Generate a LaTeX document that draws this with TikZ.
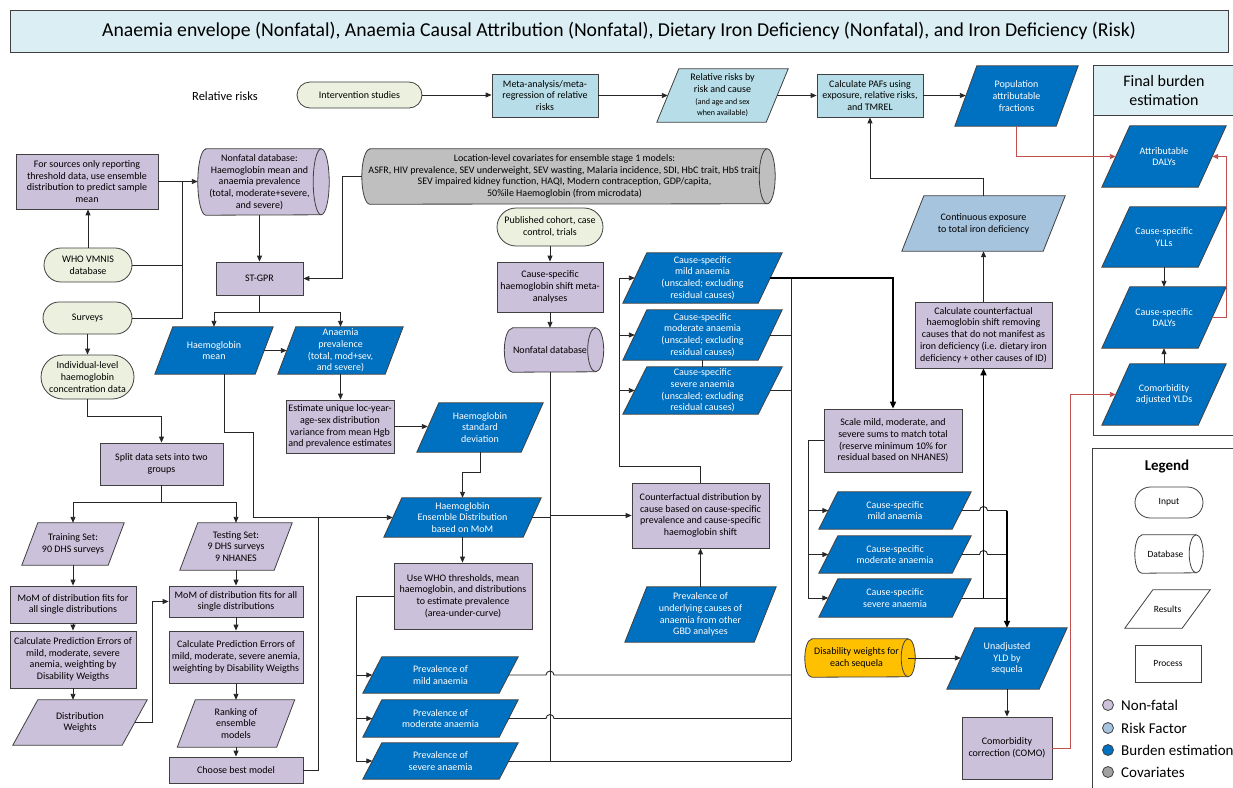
\documentclass[tikz,border=0pt]{standalone}
\usepackage{fontspec}
\setmainfont{Carlito}
\usetikzlibrary{arrows.meta,calc}
\pgfdeclarelayer{bg}
\pgfsetlayers{bg,main}
\definecolor{cpur}{HTML}{CCC1DA}
\definecolor{ccyan}{HTML}{B7DEE8}
\definecolor{csteel}{HTML}{A7C4DE}
\definecolor{cdkb}{HTML}{0070C0}
\definecolor{cgry}{HTML}{BFBFBF}
\definecolor{cgrn}{HTML}{EBF1DE}
\definecolor{corg}{HTML}{FFC000}
\definecolor{cttl}{HTML}{DBEEF4}
\definecolor{cred}{HTML}{C0504D}
\definecolor{cbord}{HTML}{404040}
\definecolor{clin}{HTML}{262626}
\tikzset{
  txt/.style={align=center, inner sep=0pt, font=\fontsize{10}{11.7}\selectfont, text=black},
  shp/.style={draw=cbord, line width=0.8pt},
  pp/.style={shp, fill=cpur}, pptxt/.style={},
  dk/.style={shp, fill=cdkb}, dktxt/.style={text=white},
  cy/.style={shp, fill=ccyan}, cytxt/.style={},
  st/.style={shp, fill=csteel}, sttxt/.style={},
  gr/.style={shp, fill=cgry}, grtxt/.style={font=\fontsize{10}{11.5}\selectfont},
  og/.style={shp, fill=corg}, ogtxt/.style={},
  wh/.style={shp, fill=white}, whtxt/.style={font=\fontsize{9.5}{11}\selectfont},
  prc/.style={txt, pp},
  inp/.style={txt, shp, fill=cgrn},
  ln/.style={draw=clin, line width=0.9pt},
  arr/.style={ln, -{Triangle[length=6pt,width=5pt]}},
  tarr/.style={draw=black, line width=1.8pt, -{Triangle[length=7pt,width=6pt]}},
  rln/.style={draw=cred, line width=0.9pt},
  rarr/.style={rln, -{Triangle[length=6pt,width=5pt]}},
}
% parallelogram: name cx cy W H slant style text
\newcommand\pbox[8]{%
  \node[txt,#7txt, minimum width={#4-#6}, minimum height=#5] (#1) at (#2,#3) {#8};
  \begin{pgfonlayer}{bg}
  \path[#7] ($(#1.south west)+(-#6/2,0)$) -- ($(#1.south east)+(-#6/2,0)$) -- ($(#1.north east)+(#6/2,0)$) -- ($(#1.north west)+(#6/2,0)$) -- cycle;
  \end{pgfonlayer}}
% horizontal cylinder: name cx cy W H r style text  (node spans left edge to centre of right ellipse)
\newcommand\cyl[8]{%
  \node[txt,#7txt, minimum width={#4-#6}, minimum height=#5] (#1) at ({#2-#6/2},#3) {#8};
  \begin{pgfonlayer}{bg}
  \path[#7] ($(#1.north west)+(#6,0)$) -- (#1.north east) arc[start angle=90,end angle=-90,x radius=#6pt,y radius={(#5)*0.5pt}] -- ($(#1.south west)+(#6,0)$) arc[start angle=270,end angle=90,x radius=#6pt,y radius={(#5)*0.5pt}] -- cycle;
  \draw[#7, fill=none] (#1.north east) arc[start angle=90,end angle=270,x radius=#6pt,y radius={(#5)*0.5pt}];
  \end{pgfonlayer}}
\begin{document}
\begin{tikzpicture}[x=1pt,y=-1pt]
\useasboundingbox (0,0) rectangle (1233,787);
\begin{pgfonlayer}{bg}\fill[white] (0,0) rectangle (1233,787);\end{pgfonlayer}

% title
\node[shp, fill=cttl, minimum width=1218, minimum height=42, inner sep=0pt, font=\fontsize{19.7}{22}\selectfont] (title) at (619,31) {Anaemia envelope (Nonfatal), Anaemia Causal Attribution (Nonfatal), Dietary Iron Deficiency (Nonfatal), and Iron Deficiency (Risk)};
\node[font=\fontsize{12.5}{14}\selectfont, inner sep=0pt] (rrlab) at (225,96) {Relative risks};

% panels
\node[draw=cbord, line width=0.8pt, minimum width=141, minimum height=370, anchor=north west, inner sep=0pt] (fbpanel) at (1093,65) {};
\node[draw=cbord, line width=0.8pt, fill=cttl, minimum width=141, minimum height=50, anchor=north west, inner sep=0pt, align=center, font=\fontsize{16}{18.5}\selectfont] (fbhead) at (1093,65) {Final burden\\estimation};
\node[draw=cbord, line width=0.8pt, minimum width=145, minimum height=345, anchor=north west, inner sep=0pt] (legpanel) at (1092,448) {};

% inputs
\node[inp, minimum width=125, minimum height=26, rounded corners=13pt] (interv) at (359.5,95) {Intervention studies};
\node[inp, minimum width=106, minimum height=38, rounded corners=19pt] (publ) at (550,227) {Published cohort, case\\control, trials};
\node[inp, minimum width=88, minimum height=34, rounded corners=17pt] (who) at (88,265) {WHO VMNIS\\database};
\node[inp, minimum width=89, minimum height=32, rounded corners=16pt] (surv) at (87.5,318) {Surveys};
\node[inp, minimum width=93, minimum height=44, rounded corners=22pt] (indiv) at (87.5,377) {Individual-level\\haemoglobin\\concentration data};

% processes
\node[prc, minimum width=142, minimum height=55] (forsrc) at (87,181.5) {For sources only reporting\\threshold data, use ensemble\\distribution to predict sample\\mean};
\node[prc, minimum width=87, minimum height=33] (stgpr) at (259.5,278.5) {ST-GPR};
\node[prc, minimum width=108, minimum height=53] (estim) at (340,426.5) {Estimate unique loc-year-\\age-sex distribution\\variance from mean Hgb\\and prevalence estimates};
\node[prc, minimum width=123, minimum height=42] (split) at (161.5,464) {Split data sets into two\\groups};
\node[prc, minimum width=126, minimum height=37] (momL) at (73,604.5) {MoM of distribution fits for\\all single distributions};
\node[prc, minimum width=126, minimum height=57] (calcL) at (73,659.5) {Calculate Prediction Errors of\\mild, moderate, severe\\anemia, weighting by\\Disability Weigths};
\node[prc, minimum width=134, minimum height=31] (momR) at (236,601.5) {MoM of distribution fits for all\\single distributions};
\node[prc, minimum width=134, minimum height=52] (calcR) at (236,657) {Calculate Prediction Errors of\\mild, moderate, severe anemia,\\weighting by Disability Weigths};
\node[prc, minimum width=134, minimum height=26] (choose) at (236,770) {Choose best model};
\node[prc, minimum width=106, minimum height=50] (csmeta) at (550,287) {Cause-specific\\haemoglobin shift meta-\\analyses};
\node[prc, minimum width=138, minimum height=66] (usewho) at (463,596) {Use WHO thresholds, mean\\haemoglobin, and distributions\\to estimate prevalence\\(area-under-curve)};
\node[prc, minimum width=137, minimum height=65] (counterf) at (700.5,515.5) {Counterfactual distribution by\\cause based on cause-specific\\prevalence and cause-specific\\haemoglobin shift};
\node[prc, minimum width=138, minimum height=63] (scale) at (893,440.5) {Scale mild, moderate, and\\severe sums to match total\\(reserve minimum 10\% for\\residual based on NHANES)};
\node[prc, minimum width=137, minimum height=66] (calccf) at (983.5,335) {Calculate counterfactual\\haemoglobin shift removing\\causes that do not manifest as\\iron deficiency (i.e. dietary iron\\deficiency + other causes of ID)};
\node[prc, minimum width=90, minimum height=62] (como) at (1007,748) {Comorbidity\\correction (COMO)};
\node[txt, cy, minimum width=106, minimum height=43] (metaan) at (545,95.5) {Meta-analysis/meta-\\regression of relative\\risks};
\node[txt, cy, minimum width=106, minimum height=43] (calcpaf) at (870,95.5) {Calculate PAFs using\\exposure, relative risks,\\and TMREL};

% parallelograms
\pbox{relrr}{722.5}{95.5}{131}{53}{22}{cy}{Relative risks by\\risk and cause\\{\fontsize{8}{9.5}\selectfont (and age and sex}\\{\fontsize{8}{9.5}\selectfont when available)}}
\pbox{paf}{1016.5}{96}{123}{60}{22}{dk}{Population\\attributable\\fractions}
\pbox{contexp}{983.5}{223.5}{163}{55}{22}{st}{Continuous exposure\\to total iron deficiency}
\pbox{attrd}{1164}{156.5}{124}{61}{28}{dk}{Attributable\\DALYs}
\pbox{ylls}{1164}{237}{124}{60}{28}{dk}{Cause-specific\\YLLs}
\pbox{dalys}{1164}{317.5}{124}{61}{28}{dk}{Cause-specific\\DALYs}
\pbox{ylds}{1164}{394.5}{124}{61}{28}{dk}{Comorbidity\\adjusted YLDs}
\pbox{hmean}{214}{350.5}{118}{47}{18}{dk}{Haemoglobin\\mean}
\pbox{aprev}{340.5}{350.5}{125}{47}{18}{dk}{Anaemia\\prevalence\\(total, mod+sev,\\and severe)}
\pbox{hsd}{480}{427.5}{126}{49}{22}{dk}{Haemoglobin\\standard\\deviation}
\pbox{ensem}{462.5}{517.5}{157}{39}{18}{dk}{Haemoglobin\\Ensemble Distribution\\based on MoM}
\pbox{prevmild}{440.5}{675}{155}{36}{19}{dk}{Prevalence of\\mild anaemia}
\pbox{prevmod}{440.5}{718.5}{155}{37}{19}{dk}{Prevalence of\\moderate anaemia}
\pbox{prevsev}{440.5}{761}{155}{36}{19}{dk}{Prevalence of\\severe anaemia}
\pbox{csmildU}{702.5}{278}{159}{50}{24}{dk}{Cause-specific\\mild anaemia\\(unscaled; excluding\\residual causes)}
\pbox{csmodU}{702.5}{335}{159}{50}{24}{dk}{Cause-specific\\moderate anaemia\\(unscaled; excluding\\residual causes)}
\pbox{cssevU}{702.5}{390.5}{159}{47}{24}{dk}{Cause-specific\\severe anaemia\\(unscaled; excluding\\residual causes)}
\pbox{underl}{700.5}{614.5}{151}{55}{22}{dk}{Prevalence of\\underlying causes of\\anaemia from other\\GBD analyses}
\pbox{csmildS}{895}{510.5}{152}{37}{19}{dk}{Cause-specific\\mild anaemia}
\pbox{csmodS}{895}{554.5}{152}{37}{19}{dk}{Cause-specific\\moderate anaemia}
\pbox{cssevS}{895}{598}{152}{38}{19}{dk}{Cause-specific\\severe anaemia}
\pbox{unadj}{1007}{658.5}{120}{61}{28}{dk}{Unadjusted\\YLD by\\sequela}
\pbox{train}{73}{544}{102}{42}{16}{pp}{Training Set:\\90 DHS surveys}
\pbox{test}{236}{546.5}{112}{47}{18}{pp}{Testing Set:\\9 DHS surveys\\9 NHANES}
\pbox{distw}{80}{722.5}{134}{45}{25}{pp}{Distribution\\Weights}
\pbox{rank}{236}{723.5}{117}{47}{18}{pp}{Ranking of\\ensemble\\models}

% cylinders
\cyl{nfdb}{263.5}{182}{131}{66}{8}{pp}{Nonfatal database:\\Haemoglobin mean and\\anaemia prevalence\\(total, moderate+severe,\\and severe)}
\cyl{nfdb2}{554}{350}{99}{44}{8}{pp}{Nonfatal database}
\cyl{covar}{568.5}{176.5}{413}{55}{8}{gr}{Location-level covariates for ensemble stage 1 models:\\ASFR, HIV prevalence, SEV underweight, SEV wasting, Malaria incidence, SDI, HbC trait, HbS trait,\\SEV impaired kidney function, HAQI, Modern contraception, GDP/capita,\\50\%ile Haemoglobin (from microdata)}
\cyl{disw}{860}{658}{110}{38}{7}{og}{Disability weights for\\each sequela}

% legend
\node[font=\bfseries\fontsize{15}{18}\selectfont, inner sep=0pt] (leglab) at (1167,467) {Legend};
\node[txt, wh, whtxt, minimum width=68, minimum height=31, rounded corners=15.5pt] (leginp) at (1169,502.5) {Input};
\cyl{legdb}{1169}{554}{68}{38}{7}{wh}{Database}
\pbox{legres}{1167.5}{609}{85}{38}{28}{wh}{Results}
\node[txt, wh, whtxt, minimum width=66, minimum height=37] (legproc) at (1168,663.5) {Process};
\foreach \i/\c/\t/\yy in {1/cpur/Non-fatal/705, 2/csteel/Risk Factor/728, 3/cdkb/Burden estimation/750, 4/cgry!85!black/Covariates/772}{
  \node[circle, draw=cbord, line width=0.8pt, fill=\c, minimum size=11, inner sep=0pt] (dot\i) at (1108,\yy) {};
  \node[anchor=west, inner sep=0pt, font=\fontsize{15}{17}\selectfont] (dl\i) at (1121,\yy) {\t};
}

% ---------- connectors ----------
\draw[arr] (interv.east) -- (interv.east -| metaan.west);
\draw[arr] (metaan.east) -- (metaan.east -| relrr.west);
\draw[arr] (relrr.east) -- (relrr.east -| calcpaf.west);
\draw[arr] (calcpaf.east) -- (calcpaf.east -| paf.west);
\draw[rarr] (paf.south) |- (attrd.west);
\draw[rarr] (dalys.east) -- ++(14,0) |- (attrd.east);
\draw[arr] (ylls.south) -- (dalys.north);
\draw[arr] (ylds.north) -- (dalys.south);
\draw[rarr] (como.east) -- ++(18,0) |- (ylds.west);
\draw[arr] (contexp.north) -- ++(0,-17) -| (calcpaf.south);
\draw[arr] (calccf.north) -- (contexp.south);

\coordinate (j1) at (182,182);
\draw[arr] (forsrc.east) -- (forsrc.east -| nfdb.west);
\draw[ln] (who.east) -- (who.east -| j1);
\draw[ln] (surv.east) -| (j1);
\draw[arr] (who.north) -- (who.north |- forsrc.south);
\draw[arr] (surv.south) -- (indiv.north);
\draw[arr] (indiv.south) -- ++(0,17) -| (split.north);
\draw[arr] (split.south) -- ++(0,17) -| (train.north);
\draw[arr] (split.south) -- ++(0,17) -| (test.north);
\draw[arr] (stgpr.north |- nfdb.south) -- (stgpr.north);
\draw[arr] (covar.west) -- ++(-19,0) |- (stgpr.east);
\draw[arr] (stgpr.south) -- ++(0,17) -| (hmean.north);
\draw[arr] (stgpr.south) -- ++(0,17) -| (aprev.north);
\draw[arr] (hmean.east) -- (aprev.west);
\draw[arr] (aprev.south) -- (aprev.south |- estim.north);
\draw[arr] (estim.east) -- (estim.east -| hsd.west);
\draw[arr] (hsd.south) -- ++(0,20) -| (ensem.north);
\draw[arr] ($(hmean.south)+(10,0)$) |- (253,432) |- (ensem.west);
\coordinate (j318) at (318,517.5);
\draw[ln] (choose.east) -| (j318);

\draw[arr] (train.south) -- (momL.north);
\draw[arr] (momL.south) -- (calcL.north);
\draw[arr] (calcL.south) -- (calcL.south |- distw.north);
\draw[arr] (distw.east) -- ++(18,0) |- (momR.west);
\draw[arr] (test.south) -- (momR.north);
\draw[arr] (momR.south) -- (calcR.north);
\draw[arr] (calcR.south) -- (rank.north);
\draw[arr] (rank.south) -- (choose.north);

\draw[arr] (ensem.south) -- (ensem.south |- usewho.north);
\coordinate (j356) at (356,596);
\draw[ln] (usewho.west) -- (j356);
\draw[arr] (j356) |- (prevsev.west);
\draw[arr] (j356 |- prevmild.west) -- (prevmild.west);
\draw[arr] (j356 |- prevmod.west) -- (prevmod.west);

\draw[arr] (publ.south) -- (csmeta.north);
\draw[arr] (csmeta.south) -- (csmeta.south |- nfdb2.north);
\draw[ln] (ensem.east) -- (ensem.east -| nfdb2.south);
\draw[arr] (nfdb2.south) |- (counterf.west);

\coordinate (j791) at (791,278);
\draw[ln] (prevsev.east) -- (prevsev.east -| j791);
\draw[ln] (prevsev.east -| nfdb2.south) -- (nfdb2.south |- counterf.west);
\draw[ln] (prevmild.east) -- ($(prevmild.east -| nfdb2.south)+(-4,0)$) arc[start angle=180,end angle=0,radius=4pt] -- (prevmild.east -| j791);
\draw[ln] (prevmod.east) -- ($(prevmod.east -| nfdb2.south)+(-4,0)$) arc[start angle=180,end angle=0,radius=4pt] -- (prevmod.east -| j791);
\draw[ln] (j791) -- (j791 |- prevsev.east);
\draw[ln] (csmodU.east) -- (csmodU.east -| j791);
\draw[ln] (cssevU.east) -- (cssevU.east -| j791);
\draw[tarr] (csmildU.east) -| (scale.north);

\coordinate (j619) at (619,466);
\draw[ln] (counterf.north) |- (j619) -- (j619 |- csmildU.west);
\draw[arr] (j619 |- csmildU.west) -- (csmildU.west);
\draw[arr] (j619 |- csmodU.west) -- (csmodU.west);
\draw[arr] (j619 |- cssevU.west) -- (cssevU.west);
\draw[ln] (csmodU.south) -- (cssevU.north);
\draw[arr] (underl.north) -- (counterf.south);

\coordinate (j808) at (808,440.5);
\draw[arr] (scale.west) -- (j808) |- (cssevS.west);
\draw[arr] (j808 |- csmildS.west) -- (csmildS.west);
\draw[arr] (j808 |- csmodS.west) -- (csmodS.west);
\draw[ln] (csmildS.east) -- ($(csmildS.east -| calccf.south)+(-4,0)$) arc[start angle=180,end angle=0,radius=4pt] -- (csmildS.east -| unadj.north);
\draw[ln] (csmodS.east) -- ($(csmodS.east -| calccf.south)+(-4,0)$) arc[start angle=180,end angle=0,radius=4pt] -- (csmodS.east -| unadj.north);
\draw[ln] (cssevS.east) -- (cssevS.east -| unadj.north);
\draw[tarr] (cssevS.east -| calccf.south) -- (calccf.south);
\draw[tarr] (csmildS.east -| unadj.north) -- (unadj.north);
\draw[arr] (disw.east) -- (disw.east -| unadj.west);
\draw[arr] (unadj.south) -- (como.north);
\end{tikzpicture}
\end{document}
